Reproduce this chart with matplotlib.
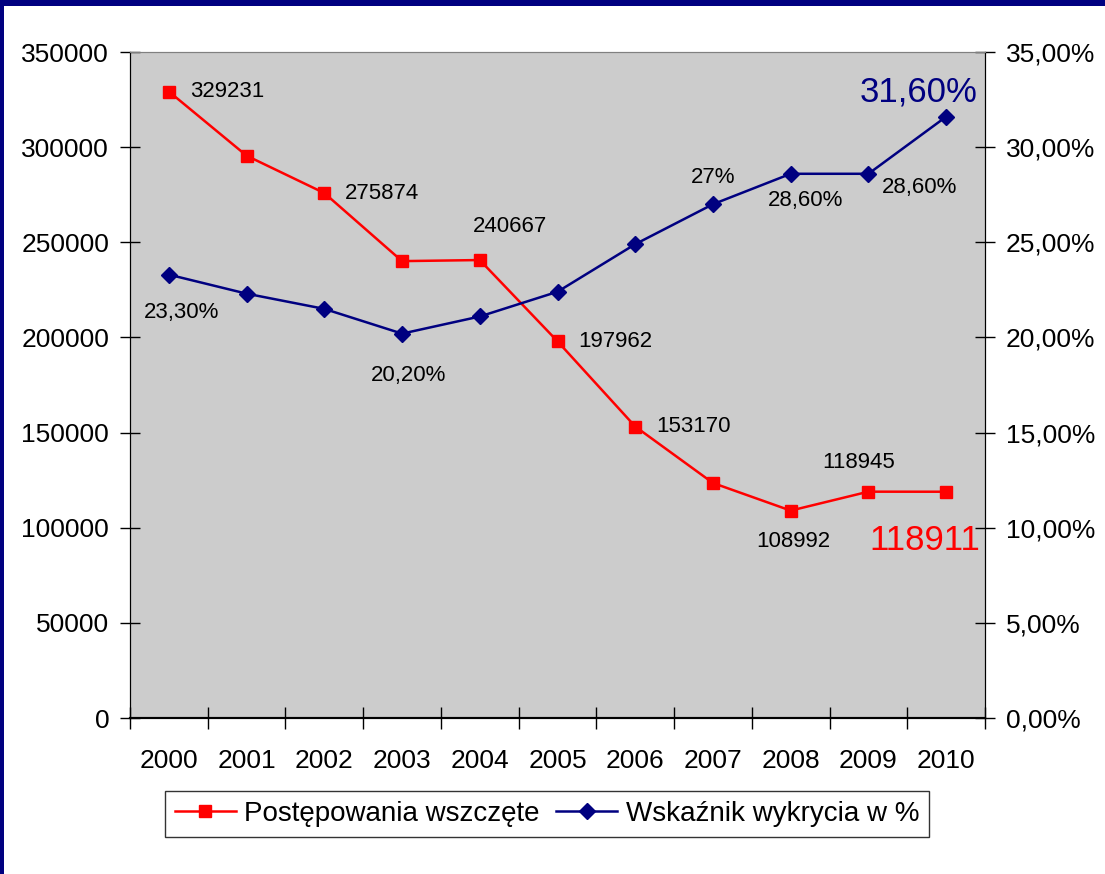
import matplotlib
matplotlib.use("Agg")
import matplotlib.pyplot as plt
from matplotlib.patches import Rectangle

plt.rcParams['font.family'] = ['Liberation Sans', 'DejaVu Sans']

years = ['2000', '2001', '2002', '2003', '2004', '2005', '2006', '2007', '2008', '2009', '2010']
cases = [329231, 295500, 275874, 240100, 240667, 197962, 153170, 123500, 108992, 118945, 118911]
rate = [23.3, 22.3, 21.5, 20.2, 21.1, 22.4, 24.9, 27.0, 28.6, 28.6, 31.6]

left_ticks = [0, 50000, 100000, 150000, 200000, 250000, 300000, 350000]
right_ticks = [0, 5, 10, 15, 20, 25, 30, 35]
right_labels = ['0,00%', '5,00%', '10,00%', '15,00%', '20,00%', '25,00%', '30,00%', '35,00%']

# labels: (index, text, offset pts, ha, size, color)
case_labels = [
    (0, '329231', (15, 0), 'left', 16, 'black'),
    (2, '275874', (15, 0), 'left', 16, 'black'),
    (4, '240667', (22, 24), 'center', 16, 'black'),
    (5, '197962', (15, 0), 'left', 16, 'black'),
    (6, '153170', (15, 0), 'left', 16, 'black'),
    (8, '108992', (2, -22), 'center', 16, 'black'),
    (9, '118945', (-7, 21), 'center', 16, 'black'),
    (10, '118911', (-15, -35), 'center', 25, '#FF0000'),
]
rate_labels = [
    (0, '23,30%', (9, -27), 'center', 16, 'black'),
    (3, '20,20%', (5, -30), 'center', 16, 'black'),
    (7, '27%', (0, 19), 'center', 16, 'black'),
    (8, '28,60%', (11, -19), 'center', 16, 'black'),
    (9, '28,60%', (37, -10), 'center', 16, 'black'),
    (10, '31,60%', (-20, 18), 'center', 25, '#000080'),
]

fig = plt.figure(figsize=(11.05, 8.74), dpi=100)
ax = fig.add_axes([130/1105, 1-718/874, (985-130)/1105, (718-52)/874])
ax2 = ax.twinx()

x = list(range(len(years)))
ax.set_facecolor('#CCCCCC')
l1, = ax.plot(x, cases, color='#FF0000', lw=1.8, marker='s', ms=9,
              label='Postępowania wszczęte', zorder=3)
l2, = ax2.plot(x, rate, color='#000080', lw=1.8, marker='D', ms=8,
               label='Wskaźnik wykrycia w %', zorder=3)

ax.set_xlim(-0.5, len(years) - 0.5)
ax.set_ylim(0, 350000)
ax2.set_ylim(0, 35)
ax.set_yticks(left_ticks)
ax.set_yticklabels([str(v) for v in left_ticks], fontsize=19)
ax2.set_yticks(right_ticks)
ax2.set_yticklabels(right_labels, fontsize=19)

ax.set_xticks(x)
ax.set_xticklabels(years, fontsize=19)
ax.set_xticks([i - 0.5 for i in range(len(years) + 1)], minor=True)
ax.tick_params(axis='x', which='major', length=0, pad=22)
ax.tick_params(axis='x', which='minor', direction='inout', length=16, width=1)
ax.tick_params(axis='y', direction='inout', length=14, width=1, pad=8)
ax2.tick_params(axis='y', direction='inout', length=14, width=1, pad=8)

for a in (ax, ax2):
    a.spines['top'].set_color('#808080')
    a.spines['left'].set_color('black')
    a.spines['right'].set_color('black')
    a.spines['bottom'].set_color('black')
    a.spines['bottom'].set_linewidth(1.5)

for i, t, off, ha, fs, c in case_labels:
    ax.annotate(t, (x[i], cases[i]), xytext=off, textcoords='offset points',
                ha=ha, va='center', fontsize=fs, color=c, zorder=5)
for i, t, off, ha, fs, c in rate_labels:
    ax2.annotate(t, (x[i], rate[i]), xytext=off, textcoords='offset points',
                 ha=ha, va='center', fontsize=fs, color=c, zorder=5)

leg = fig.legend(handles=[l1, l2], loc='center', bbox_to_anchor=(547/1105, 1-814/874),
                 ncol=2, fontsize=20, frameon=True, fancybox=False, edgecolor='black',
                 handlelength=2.2, handletextpad=0.3, columnspacing=0.6, borderpad=0.35)
leg.get_frame().set_linewidth(1.0)

# navy frame
fig.patches.append(Rectangle((0, 1-6/874), 1, 6/874, transform=fig.transFigure,
                             facecolor='#000080', edgecolor='none', zorder=10))
fig.patches.append(Rectangle((0, 0), 4/1105, 1, transform=fig.transFigure,
                             facecolor='#000080', edgecolor='none', zorder=10))

fig.savefig('out.png', dpi=100)
